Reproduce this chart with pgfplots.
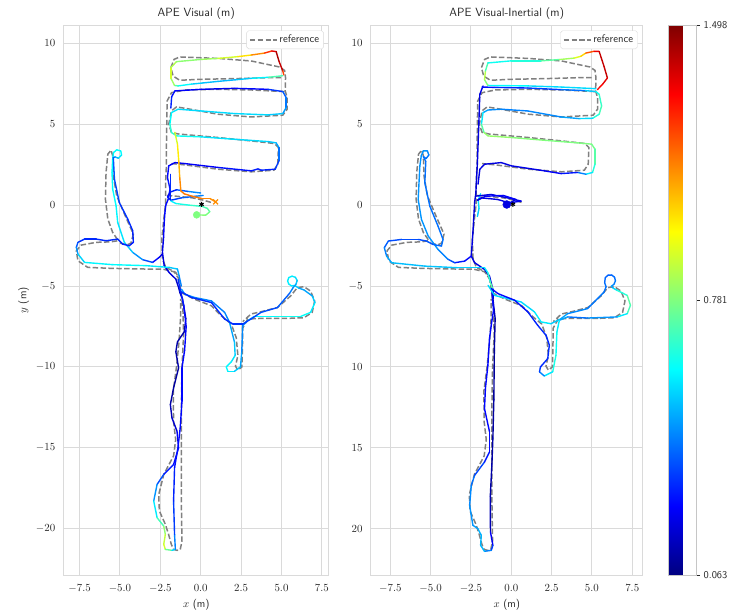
\documentclass[border=0pt]{standalone}
\usepackage{pgfplots}
\usepackage{pgfplotstable}
\pgfplotsset{compat=1.18}

\definecolor{gridc}{RGB}{218,218,218}
\definecolor{txt}{RGB}{38,38,38}
\definecolor{refc}{RGB}{128,128,128}

\begin{document}

% ---------- reference trajectory (shared by both panels) ----------
\pgfplotstableread{
x y
4.98 7.88
4.16 7.88
2.10 7.82
0.04 7.78
-1.30 7.72
-1.71 7.98
-1.85 8.50
-1.65 9.01
-1.30 9.16
1.07 9.07
3.13 8.91
4.88 8.54
5.19 8.33
5.25 7.88
5.23 7.06
5.35 6.65
5.35 5.93
5.08 5.56
3.13 5.45
1.07 5.62
-0.99 5.99
-1.50 6.07
-1.81 5.83
-1.98 5.00
-1.81 4.50
-1.40 4.40
1.07 4.18
3.13 3.97
4.57 3.81
4.81 3.56
4.77 2.53
4.53 2.16
3.13 2.06
1.07 2.22
-0.99 2.49
-1.81 2.57
}\refA
\pgfplotstableread{
x y
5.19 7.02
3.13 7.12
1.07 7.16
-0.99 7.12
-1.81 6.95
-2.08 6.44
-2.12 3.77
-2.12 2.53
-2.18 1.30
-2.18 0.06
-2.30 -1.00
-2.41 -2.10
-2.37 -3.33
-2.16 -3.85
-1.54 -4.16
-1.34 -4.57
-1.22 -5.40
-1.10 -6.50
-1.06 -8.00
-1.16 -10.06
-1.20 -12.50
-1.20 -15.00
-1.20 -18.30
-1.16 -20.76
-1.27 -21.30
-1.47 -21.34
-1.68 -21.28
-1.82 -20.97
-1.99 -20.35
-2.19 -19.73
-2.56 -18.90
-2.60 -17.90
-2.29 -16.65
-1.68 -15.50
-1.55 -14.50
-1.68 -13.40
-1.70 -11.50
-1.50 -10.00
-1.35 -8.50
-1.25 -7.00
-1.25 -5.80
}\refB
\pgfplotstableread{
x y
-2.10 0.60
-1.50 0.55
-0.50 0.45
0.20 0.30
0.70 0.15
}\refC
\pgfplotstableread{
x y
-5.00 -2.35
-4.55 -2.45
-4.32 -2.35
-4.17 -1.79
-4.63 -0.76
-5.20 0.58
-5.41 1.81
-5.45 3.05
-5.55 3.40
-5.75 3.15
-5.86 2.02
-5.90 0.37
-5.75 -0.86
-5.45 -1.69
-5.10 -2.20
-5.60 -2.27
-6.47 -2.30
-7.40 -2.47
-7.70 -2.82
-7.60 -3.44
-6.99 -3.85
-5.45 -3.91
-3.39 -3.95
-2.37 -3.95
-1.65 -4.12
-1.34 -4.57
}\refD
\pgfplotstableread{
x y
-1.22 -5.40
-0.37 -5.82
0.66 -6.22
1.27 -6.84
1.89 -7.35
2.20 -8.20
2.30 -9.30
2.15 -9.95
2.30 -10.20
2.55 -10.00
2.58 -9.00
2.60 -7.60
2.91 -7.04
3.73 -7.00
5.37 -7.00
6.39 -6.96
6.90 -6.63
7.05 -5.92
6.80 -5.31
6.39 -5.04
5.98 -5.10
5.57 -5.61
4.75 -6.33
3.73 -6.59
3.11 -6.73
2.60 -7.20
}\refE

% ---------- Visual estimate (x y APE) ----------
\pgfplotstableread{
x y c
5.08 8.00 0.80
4.16 7.90 0.62
3.13 7.84 0.55
2.16 7.75 0.50
1.07 7.65 0.50
0.10 7.55 0.52
-0.58 7.48 0.55
-1.40 7.37 0.65
-1.62 7.40 0.75
-1.85 7.85 0.90
-1.85 8.50 0.90
-1.50 8.87 0.80
0.04 9.01 0.80
1.07 9.07 0.85
2.30 9.18 0.95
3.13 9.28 1.05
3.95 9.40 1.20
4.40 9.53 1.30
4.67 9.49 1.42
4.84 8.91 1.45
5.08 8.29 1.35
5.14 8.05 1.10
}\visA
\pgfplotstableread{
x y c
-1.85 6.00 0.30
-1.80 6.70 0.28
-1.60 7.06 0.25
0.04 7.16 0.22
2.10 7.22 0.22
4.16 7.16 0.28
5.08 7.02 0.35
5.29 6.65 0.40
5.29 6.03 0.42
5.08 5.66 0.50
4.16 5.58 0.55
2.10 5.66 0.55
0.04 5.82 0.55
-1.40 5.93 0.55
-1.81 5.72 0.58
-1.91 5.00 0.62
-1.81 4.49 0.70
-1.50 4.28 0.65
0.04 4.22 0.58
2.10 4.07 0.55
4.16 3.93 0.55
4.67 3.85 0.50
4.84 3.56 0.45
4.84 2.74 0.35
4.61 2.22 0.30
3.74 2.16 0.28
3.55 2.24 0.28
3.13 2.12 0.28
1.07 2.33 0.25
-0.99 2.57 0.22
-1.60 2.63 0.22
-1.98 2.43 0.25
-2.06 1.71 0.25
}\visB
\pgfplotstableread{
x y c
-1.60 4.50 0.85
-1.44 3.77 0.95
-1.36 2.74 1.02
-1.30 1.71 1.10
-1.23 0.88 1.15
-1.02 0.70 1.15
-0.53 0.55 1.15
0.06 0.41 1.15
0.57 0.41 1.12
0.92 0.20 1.12
}\visC
\pgfplotstableread{
x y c
-0.25 -0.60 0.78
0.31 -0.62 0.80
0.56 -0.41 0.75
0.41 -0.20 0.72
0.10 -0.08 0.70
-0.72 0.00 0.65
-1.54 0.10 0.62
-1.85 0.26 0.55
}\visD
\pgfplotstableread{
x y c
0.00 0.75 0.45
-0.80 0.85 0.42
-1.50 0.95 0.32
-1.90 0.80 0.25
-2.05 0.50 0.25
-1.85 0.30 0.30
-1.20 0.45 0.35
-0.30 0.55 0.40
0.15 0.60 0.45
}\visE
\pgfplotstableread{
x y c
-2.06 1.71 0.25
-1.90 1.00 0.28
-2.00 0.40 0.25
-2.16 0.00 0.25
-2.22 -0.50 0.25
-2.26 -1.07 0.25
-2.30 -2.00 0.22
-2.37 -2.92 0.20
-2.26 -3.74 0.20
-1.96 -4.16 0.20
-1.54 -4.57 0.18
-1.34 -5.19 0.15
-1.29 -5.41 0.15
-1.13 -5.78 0.15
-0.92 -7.02 0.15
-1.02 -7.83 0.13
-1.44 -8.45 0.12
-1.54 -9.06 0.12
-1.37 -10.06 0.12
-1.68 -11.30 0.10
-1.88 -12.33 0.12
-1.78 -13.15 0.15
-1.47 -13.97 0.20
-1.37 -15.00 0.25
-1.68 -16.03 0.25
-2.29 -16.65 0.30
-2.70 -17.26 0.40
-2.91 -18.29 0.50
-2.70 -19.32 0.65
-2.29 -19.84 0.75
-2.19 -20.35 0.85
-2.29 -20.97 0.90
-2.19 -21.28 0.90
-1.78 -21.34 0.60
-1.57 -21.28 0.50
-1.62 -20.35 0.35
-1.68 -18.29 0.30
-1.62 -16.23 0.28
-1.41 -15.00 0.25
-1.27 -13.77 0.25
-1.16 -12.12 0.25
-1.16 -10.06 0.25
-1.00 -9.00 0.25
-0.90 -7.50 0.25
-1.05 -6.20 0.25
-1.25 -5.30 0.30
-1.40 -4.60 0.30
}\visF
\pgfplotstableread{
x y c
-1.86 1.90 0.30
-1.86 0.35 0.30
}\visG
\pgfplotstableread{
x y c
-2.37 -3.02 0.20
-2.57 -3.23 0.22
-2.98 -3.54 0.28
-3.60 -3.37 0.40
-4.21 -2.92 0.50
-4.73 -2.30 0.55
-5.14 -1.07 0.58
-5.24 -0.04 0.60
-5.45 0.99 0.60
-5.49 2.02 0.60
-5.45 2.84 0.60
-5.40 3.25 0.60
-5.20 3.42 0.60
-4.95 3.35 0.60
-4.90 3.09 0.60
-5.10 2.90 0.55
-5.30 2.98 0.45
-5.41 2.94 0.38
-5.34 1.60 0.35
-5.04 0.16 0.33
-4.52 -0.86 0.30
-4.21 -1.58 0.30
-4.17 -2.30 0.28
-4.42 -2.51 0.28
-4.83 -2.41 0.30
-5.14 -2.10 0.30
-5.86 -2.20 0.30
-6.47 -2.10 0.30
-7.19 -2.10 0.30
-7.60 -2.30 0.32
-7.70 -2.61 0.40
-7.60 -3.02 0.50
-7.19 -3.54 0.58
-5.45 -3.68 0.60
-3.39 -3.74 0.60
-1.96 -3.85 0.55
-1.44 -3.95 0.50
-1.34 -4.36 0.45
-1.20 -5.00 0.40
}\visH
\pgfplotstableread{
x y c
-1.19 -5.20 0.45
-0.98 -5.51 0.45
-0.37 -5.71 0.45
0.66 -5.92 0.42
1.48 -6.63 0.42
1.78 -7.24 0.45
2.09 -8.47 0.50
2.13 -9.29 0.55
1.89 -9.69 0.58
1.58 -10.00 0.60
1.68 -10.27 0.60
2.09 -10.27 0.55
2.46 -10.00 0.50
2.54 -9.08 0.45
2.60 -7.45 0.42
2.91 -7.14 0.45
3.32 -6.88 0.58
4.75 -6.88 0.62
6.19 -6.88 0.62
6.80 -6.63 0.60
7.07 -6.02 0.55
6.90 -5.61 0.50
6.39 -5.24 0.45
6.05 -5.12 0.50
5.83 -4.97 0.55
5.62 -4.99 0.57
5.45 -4.88 0.58
5.38 -4.69 0.58
5.45 -4.48 0.58
5.65 -4.39 0.58
5.86 -4.46 0.56
5.97 -4.66 0.54
5.90 -4.88 0.50
5.72 -5.10 0.45
5.50 -5.45 0.40
4.75 -6.33 0.35
3.73 -6.63 0.35
3.11 -7.04 0.33
2.60 -7.35 0.32
1.99 -7.35 0.30
1.48 -7.04 0.30
0.66 -6.02 0.30
-0.57 -5.71 0.30
-1.29 -5.31 0.30
}\visI

% ---------- Visual-Inertial estimate (x y APE) ----------
\pgfplotstableread{
x y c
5.25 7.20 0.55
3.09 7.30 0.55
1.03 7.37 0.55
-1.45 7.40 0.65
-1.66 7.76 0.92
-1.60 8.30 0.80
-1.45 8.79 0.62
0.00 8.92 0.62
1.84 8.92 0.68
3.00 9.00 0.78
3.90 9.09 0.88
4.31 9.20 0.95
4.62 9.40 1.10
5.13 9.51 1.30
5.45 9.50 1.38
5.75 8.58 1.42
5.96 7.86 1.38
5.66 7.47 1.33
5.34 7.14 1.30
}\viA
\pgfplotstableread{
x y c
-1.81 7.30 0.25
-1.03 7.28 0.28
1.03 7.24 0.30
3.09 7.14 0.35
4.60 7.08 0.45
5.25 7.02 0.60
5.45 6.85 0.65
5.60 6.13 0.70
5.45 5.62 0.70
5.04 5.37 0.60
4.20 5.35 0.50
3.09 5.45 0.45
1.03 5.82 0.42
-0.62 5.93 0.43
-1.44 5.88 0.45
-1.75 5.72 0.50
-1.85 5.00 0.65
-1.69 4.49 0.80
-1.44 4.28 0.82
0.00 4.18 0.80
2.06 4.01 0.78
4.12 3.85 0.78
4.98 3.77 0.78
5.19 3.46 0.75
5.19 2.53 0.70
5.04 2.02 0.60
4.63 1.91 0.55
4.12 2.02 0.30
3.09 1.95 0.25
2.06 2.12 0.22
0.00 2.43 0.20
-0.62 2.63 0.20
-1.65 2.53 0.20
-1.95 2.22 0.20
-2.06 1.30 0.20
}\viB
\pgfplotstableread{
x y c
-1.75 7.37 0.20
-1.95 6.85 0.20
-2.02 4.79 0.20
-2.10 2.60 0.20
-2.20 0.70 0.18
-2.27 0.20 0.18
-2.38 -1.71 0.20
-2.48 -3.15 0.20
-2.27 -3.56 0.20
-1.66 -3.97 0.20
-1.35 -4.38 0.20
-1.14 -5.21 0.18
-1.14 -5.77 0.15
-1.00 -7.00 0.12
-1.05 -9.00 0.10
-1.08 -12.00 0.10
-1.14 -14.40 0.12
-1.20 -16.00 0.12
-1.30 -18.00 0.12
-1.29 -20.20 0.15
-1.14 -21.03 0.30
-1.24 -21.34 0.35
-1.66 -21.40 0.50
-1.90 -21.03 0.50
-1.86 -20.41 0.50
-2.07 -20.00 0.48
-2.38 -19.79 0.45
-2.58 -18.56 0.45
-2.48 -17.32 0.42
-2.27 -16.70 0.38
-1.66 -15.88 0.30
-1.35 -15.26 0.25
-1.35 -14.00 0.25
-1.66 -12.58 0.25
-1.60 -11.30 0.25
-1.45 -9.90 0.25
-1.35 -8.25 0.25
-1.24 -7.42 0.25
-1.10 -6.50 0.25
-1.20 -5.30 0.25
}\viC
\pgfplotstableread{
x y c
-2.17 0.56 0.20
-1.25 0.66 0.20
-0.22 0.45 0.20
0.61 0.25 0.22
-0.12 0.14 0.20
-0.84 0.35 0.20
-1.87 0.45 0.20
-2.10 0.30 0.20
-1.60 0.55 0.22
-0.50 0.60 0.25
0.30 0.35 0.22
-0.28 0.04 0.20
}\viD
\pgfplotstableread{
x y c
-1.90 0.70 0.55
-2.05 0.30 0.55
-2.00 -0.20 0.55
-2.10 -0.70 0.50
}\viE
\pgfplotstableread{
x y c
-2.48 -3.15 0.25
-2.89 -3.46 0.25
-3.51 -3.56 0.30
-3.92 -3.35 0.40
-4.54 -2.74 0.45
-5.15 -1.91 0.45
-5.57 -0.88 0.45
-5.77 0.35 0.45
-5.67 2.41 0.45
-5.58 3.05 0.45
-5.45 3.36 0.45
-5.20 3.35 0.45
-5.11 3.10 0.42
-5.28 2.88 0.40
-5.45 3.00 0.40
-5.30 2.70 0.40
-5.36 1.38 0.40
-5.05 -0.06 0.40
-4.54 -1.30 0.40
-4.23 -2.12 0.40
-4.33 -2.53 0.40
-4.85 -2.43 0.38
-5.26 -2.22 0.35
-5.77 -2.12 0.35
-6.80 -2.12 0.35
-7.62 -2.22 0.35
-7.87 -2.63 0.40
-7.73 -3.15 0.45
-7.42 -3.56 0.50
-5.36 -3.77 0.52
-3.30 -3.87 0.52
-1.66 -3.87 0.55
-1.45 -4.18 0.60
-1.29 -4.79 0.70
-1.14 -5.21 0.75
}\viF
\pgfplotstableread{
x y c
-1.44 -4.96 0.55
-1.03 -5.58 0.55
-0.21 -5.78 0.55
0.62 -5.99 0.55
1.44 -6.60 0.55
1.85 -7.22 0.60
2.46 -7.33 0.55
3.08 -7.02 0.50
3.49 -6.71 0.45
4.72 -6.40 0.42
5.75 -5.37 0.40
5.88 -5.05 0.40
5.79 -4.80 0.40
5.83 -4.48 0.38
6.00 -4.33 0.38
6.22 -4.32 0.38
6.40 -4.45 0.40
6.46 -4.68 0.40
6.36 -4.90 0.42
6.20 -5.02 0.45
6.35 -5.15 0.52
6.57 -5.27 0.60
7.19 -5.58 0.70
7.39 -6.19 0.75
7.19 -6.71 0.65
6.57 -6.91 0.50
4.72 -6.98 0.40
3.49 -6.91 0.40
2.98 -7.12 0.55
2.83 -7.84 0.60
2.77 -9.28 0.62
2.57 -10.30 0.65
2.05 -10.56 0.50
1.75 -10.31 0.35
1.81 -10.00 0.30
2.26 -9.49 0.30
2.36 -8.66 0.30
2.16 -8.05 0.30
1.64 -7.43 0.30
1.03 -6.60 0.28
0.21 -5.88 0.25
-0.82 -5.47 0.25
-1.23 -5.16 0.25
}\viG

\pgfplotsset{
  traj/.style={
    scale only axis, height=552bp,
    ymin=-22.87, ymax=11.1,
    xtick={-7.5,-5,-2.5,0,2.5,5,7.5},
    xticklabels={$-7.5$,$-5.0$,$-2.5$,$0.0$,$2.5$,$5.0$,$7.5$},
    ytick={-20,-15,-10,-5,0,5,10},
    grid=major,
    grid style={draw=gridc, line width=1bp},
    axis line style={draw=gridc, line width=1bp},
    major tick length=0pt,
    tick label style={font=\fontsize{11}{13}\selectfont, text=txt},
    xticklabel style={yshift=-6bp},
    yticklabel style={xshift=-5bp},
    xlabel={$x$ \textsf{(m)}},
    label style={font=\fontsize{11}{13}\selectfont, text=txt},
    title style={font=\sffamily\fontsize{12}{14}\selectfont, text=txt, yshift=-3bp},
    colormap/jet,
    point meta min=0.063, point meta max=1.498,
    legend style={at={(1,1)}, anchor=north east, xshift=-5bp, yshift=-5bp,
      draw=gridc, rounded corners=2pt, fill=white, inner sep=2.5bp,
      font=\sffamily\fontsize{11}{13}\selectfont, text=txt},
    legend image code/.code={\draw[##1] (0bp,0bp) -- (27bp,0bp);},
  },
  est/.style={mesh, point meta=explicit, line width=1.4bp,
    line cap=round, line join=round, forget plot},
  refl/.style={refc, line width=1.5bp, dash pattern=on 5.5bp off 2.4bp,
    line cap=butt, forget plot},
}

\begin{tikzpicture}
\useasboundingbox (0,0) rectangle (735bp,616bp);

% ---------------- left panel ----------------
\begin{axis}[traj,
  at={(60.7bp,38.3bp)}, anchor=south west,
  width=266.3bp, xmin=-8.48, xmax=7.93,
  title={APE Visual (m)},
  ylabel={$y$ \textsf{(m)}},
]
\addlegendimage{refc, line width=1.5bp, dash pattern=on 5.5bp off 2.4bp}
\addlegendentry{reference}
\addplot[refl] table {\refA};
\addplot[refl] table {\refB};
\addplot[refl] table {\refC};
\addplot[refl] table {\refD};
\addplot[refl] table {\refE};
\addplot[est] table[meta=c] {\visF};
\addplot[est] table[meta=c] {\visG};
\addplot[est] table[meta=c] {\visH};
\addplot[est] table[meta=c] {\visI};
\addplot[est] table[meta=c] {\visB};
\addplot[est] table[meta=c] {\visA};
\addplot[est] table[meta=c] {\visE};
\addplot[est] table[meta=c] {\visD};
\addplot[est] table[meta=c] {\visC};
\addplot[only marks, mark=asterisk, mark size=2.5bp, black, line width=1bp, forget plot]
  coordinates {(0.05,0.05)};
\addplot[scatter, only marks, mark=*, mark size=3.5bp, point meta=explicit,
  scatter/use mapped color={draw=mapped color, fill=mapped color}, forget plot]
  table[meta=c] {
x y c
-0.25 -0.60 0.78
};
\addplot[scatter, only marks, mark=x, mark size=3.5bp, line width=1.2bp, point meta=explicit,
  scatter/use mapped color={draw=mapped color}, forget plot]
  table[meta=c] {
x y c
0.92 0.20 1.12
};
\end{axis}

% ---------------- right panel ----------------
\begin{axis}[traj,
  at={(369.3bp,38.3bp)}, anchor=south west,
  width=273bp, xmin=-8.70, xmax=8.15,
  title={APE Visual-Inertial (m)},
  yticklabels={$20$,$15$,$10$,$-5$,$0$,$5$,$10$},
  colorbar,
  colorbar shift/.style={xshift=25.7bp},
  colorbar style={
    at={(parent axis.north east)}, anchor=north west,
    scale only axis, width=28bp, height=552bp,
    ytick={0.063,0.7805,1.498},
    yticklabels={0.063,0.781,1.498},
    ytick pos=right, yticklabel pos=right,
    major tick length=4bp, tick align=outside,
    ytick style={draw=txt, line width=0.8bp},
    yticklabel style={font=\sffamily\fontsize{10.5}{12}\selectfont, text=txt},
    axis line style={draw=gray!45, line width=0.8bp},
  },
]
\addlegendimage{refc, line width=1.5bp, dash pattern=on 5.5bp off 2.4bp}
\addlegendentry{reference}
\addplot[refl] table {\refA};
\addplot[refl] table {\refB};
\addplot[refl] table {\refC};
\addplot[refl] table {\refD};
\addplot[refl] table {\refE};
\addplot[est] table[meta=c] {\viC};
\addplot[est] table[meta=c] {\viF};
\addplot[est] table[meta=c] {\viG};
\addplot[est] table[meta=c] {\viB};
\addplot[est] table[meta=c] {\viA};
\addplot[est] table[meta=c] {\viE};
\addplot[est] table[meta=c] {\viD};
\addplot[only marks, mark=asterisk, mark size=2.5bp, black, line width=1bp, forget plot]
  coordinates {(0.10,0.05)};
\addplot[scatter, only marks, mark=*, mark size=4bp, point meta=explicit,
  scatter/use mapped color={draw=mapped color, fill=mapped color}, forget plot]
  table[meta=c] {
x y c
-0.28 0.04 0.20
};
\end{axis}
\end{tikzpicture}
\end{document}
